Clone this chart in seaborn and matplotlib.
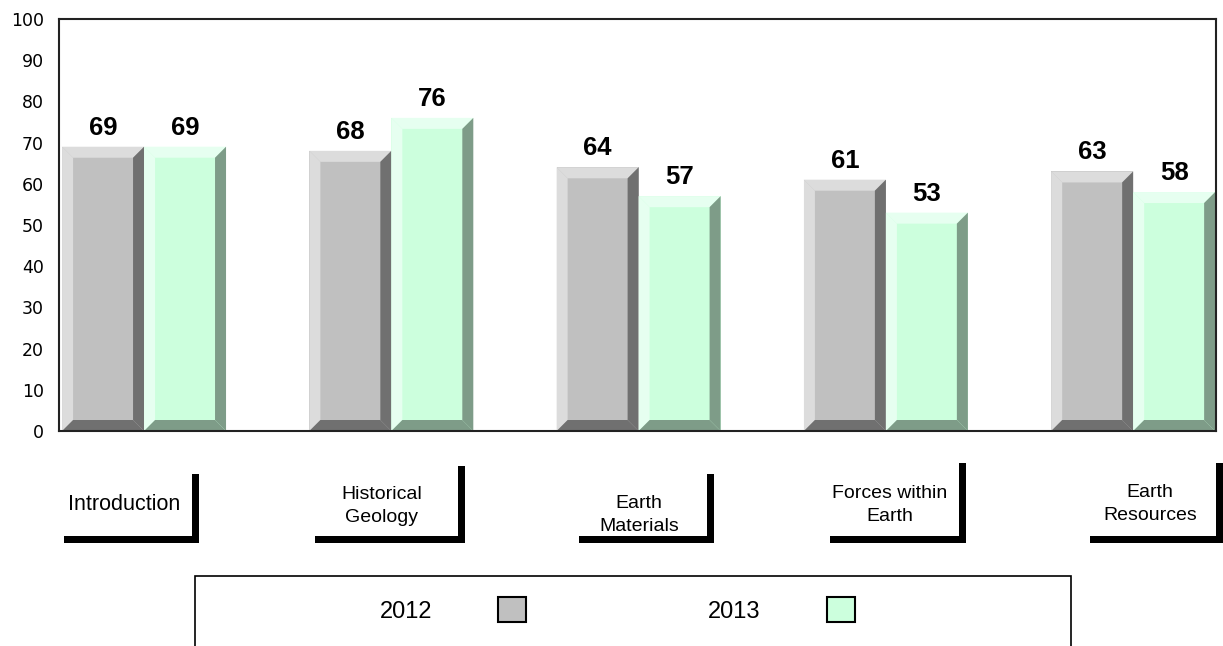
import matplotlib
matplotlib.use("Agg")
import matplotlib.pyplot as plt
from matplotlib.patches import Polygon, Rectangle, Patch
import pandas as pd
import seaborn as sns

# data
topics = ['Introduction', 'Historical\nGeology', 'Earth\nMaterials',
          'Forces within\nEarth', 'Earth\nResources']
years = ['2012', '2013']
scores_2012 = [69, 68, 64, 61, 63]
scores_2013 = [69, 76, 57, 53, 58]

# bevel colours: face / light (top, left) / dark (right, bottom)
face = {'2012': '#c0c0c0', '2013': '#ccffdd'}
light = {'2012': '#dcdcdc', '2013': '#e6fff0'}
dark = {'2012': '#707070', '2013': '#7e9c88'}

W, H = 1223, 646

df = pd.DataFrame({
    'topic': topics * 2,
    'year': [years[0]] * len(topics) + [years[1]] * len(topics),
    'score': scores_2012 + scores_2013,
})

sns.set_style('white')
plt.rcParams['font.family'] = ['Liberation Sans', 'DejaVu Sans']
plt.rcParams['text.color'] = 'black'
plt.rcParams['ytick.color'] = 'black'
plt.rcParams['ytick.labelcolor'] = 'black'


def fx(px):
    return px / W


def fy(py):
    return 1 - py / H


fig = plt.figure(figsize=(W / 100, H / 100), dpi=100)
ax = fig.add_axes([fx(59), fy(431), 1157 / W, 412 / H])

sns.barplot(data=df, x='topic', y='score', hue='year',
            palette=[face[y] for y in years], width=0.663, saturation=1,
            linewidth=0, legend=False, errorbar=None, ax=ax)

ax.set_xlim(-0.344, 4.335)
ax.set_ylim(0, 100)
ax.set_yticks(range(0, 101, 10))
ax.set_xticks([])
ax.set_xlabel('')
ax.set_ylabel('')
ax.tick_params(axis='y', length=0, pad=11, labelsize=12.5, labelcolor='black')
for lab in ax.get_yticklabels():
    lab.set_fontfamily('DejaVu Sans')
for s in ax.spines.values():
    s.set_visible(True)
    s.set_color('#222222')
    s.set_linewidth(1.5)

# pixel size of the bevel converted to data units
ux = ax.transData.transform((1, 0))[0] - ax.transData.transform((0, 0))[0]
uy = ax.transData.transform((0, 1))[1] - ax.transData.transform((0, 0))[1]
bx, by = 11 / ux, 11 / uy

for year, cont in zip(years, ax.containers):
    for bar in cont:
        x0, w, h = bar.get_x(), bar.get_width(), bar.get_height()
        x1 = x0 + w
        pieces = [
            ([(x0, h), (x1, h), (x1 - bx, h - by), (x0 + bx, h - by)], light[year]),
            ([(x0, 0), (x0, h), (x0 + bx, h - by), (x0 + bx, by)], light[year]),
            ([(x1, h), (x1, 0), (x1 - bx, by), (x1 - bx, h - by)], dark[year]),
            ([(x0, 0), (x1, 0), (x1 - bx, by), (x0 + bx, by)], dark[year]),
        ]
        for pts, c in pieces:
            ax.add_patch(Polygon(pts, closed=True, facecolor=c, edgecolor='none',
                                 zorder=bar.get_zorder() + 0.1))
    ax.bar_label(cont, fmt='%.0f', padding=5, fontsize=18.5, fontweight='bold',
                 color='black')

# category label boxes with the thick L-shaped shadow
# (left, right, top, text x, text y, font size) in pixels
label_layout = [
    (64, 199, 474, 124, 505, 15.5),
    (315, 465, 466, 382, 506, 14),
    (579, 714, 474, 639, 515, 14),
    (830, 966, 463, 890, 505, 14),
    (1090, 1223, 463, 1150, 504, 14),
]
box_bottom, thick = 543, 7
for topic, (l, r, t, tx, ty, fs) in zip(topics, label_layout):
    fig.add_artist(Rectangle((fx(r - thick), fy(box_bottom)), thick / W,
                             (box_bottom - t) / H, transform=fig.transFigure,
                             facecolor='black', edgecolor='none'))
    fig.add_artist(Rectangle((fx(l), fy(box_bottom)), (r - l) / W, thick / H,
                             transform=fig.transFigure,
                             facecolor='black', edgecolor='none'))
    fig.text(fx(tx), fy(ty), topic, ha='center', va='center', fontsize=fs,
             linespacing=1.5, multialignment='center', color='black')

# legend
handles = [Patch(facecolor=face[y], edgecolor='black', linewidth=1.5) for y in years]
fig.legend(handles, years, loc='center', bbox_to_anchor=(fx(617), fy(610)),
           ncol=2, frameon=False, markerfirst=False, fontsize=17,
           handlelength=1.19, handleheight=1.23, handletextpad=2.8,
           columnspacing=7.7, borderpad=0, borderaxespad=0,
           labelcolor='black')
fig.add_artist(Rectangle((fx(195), fy(660)), (1071 - 195) / W, (660 - 576) / H,
                         transform=fig.transFigure, fill=False,
                         edgecolor='black', linewidth=1.2, clip_on=False))

fig.savefig('out.png', dpi=100)
